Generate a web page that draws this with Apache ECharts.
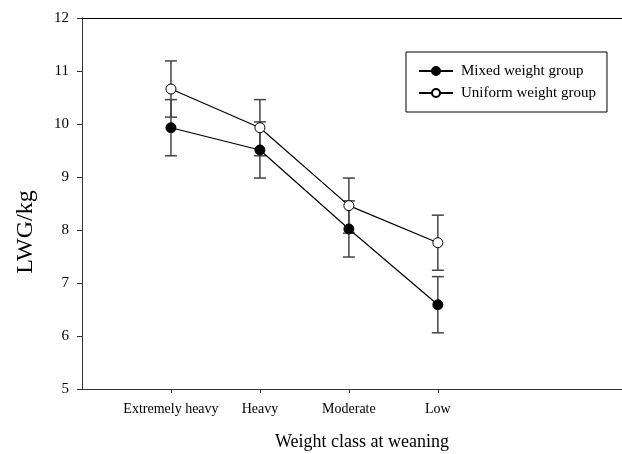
<!DOCTYPE html>
<html>
<head>
<meta charset="utf-8">
<script src="https://cdn.jsdelivr.net/npm/echarts@6/dist/echarts.min.js"></script>
<style>
html,body{margin:0;padding:0;background:#fff;}
#chart{width:622px;height:454px;}
</style>
</head>
<body>
<div id="chart"></div>
<script>
var categories = ['Extremely heavy', 'Heavy', 'Moderate', 'Low'];
var mixedValues = [9.93, 9.51, 8.02, 6.59];
var mixedErrors = [0.53, 0.53, 0.53, 0.53];
var uniformValues = [10.66, 9.93, 8.46, 7.76];
var uniformErrors = [0.53, 0.53, 0.52, 0.52];
var yTicks = [5, 6, 7, 8, 9, 10, 11, 12];

var FONT = '"Liberation Serif", "Times New Roman", serif';

function pts(vals) { return vals.map(function (v, i) { return [i + 1, v]; }); }
function errs(vals, e) { return vals.map(function (v, i) { return [i + 1, v - e[i], v + e[i]]; }); }

function errRender(params, api) {
  var x = api.value(0);
  var lo = api.coord([x, api.value(1)]);
  var hi = api.coord([x, api.value(2)]);
  var hw = 6;
  var st = { stroke: '#444', lineWidth: 1.5 };
  return {
    type: 'group',
    children: [
      { type: 'line', shape: { x1: lo[0], y1: lo[1], x2: hi[0], y2: hi[1] }, style: st },
      { type: 'line', shape: { x1: lo[0] - hw, y1: lo[1], x2: lo[0] + hw, y2: lo[1] }, style: st },
      { type: 'line', shape: { x1: hi[0] - hw, y1: hi[1], x2: hi[0] + hw, y2: hi[1] }, style: st }
    ]
  };
}

var chart = echarts.init(document.getElementById('chart'));
chart.setOption({
  animation: false,
  backgroundColor: '#fff',
  grid: { left: 82, top: 18, bottom: 65, right: 0 },
  legend: {
    orient: 'vertical', left: 406, top: 52,
    data: ['Mixed weight group', 'Uniform weight group'],
    itemWidth: 34, itemHeight: 10, itemGap: 6,
    padding: [11, 11, 11, 12],
    borderColor: '#000', borderWidth: 1,
    textStyle: { fontFamily: FONT, fontSize: 15, color: '#000', lineHeight: 16, padding: [0, 0, 0, 3] }
  },
  xAxis: [{
    type: 'value', min: 0, max: 6.07, interval: 1,
    splitLine: { show: false },
    axisLine: { lineStyle: { color: '#333', width: 1 } },
    axisTick: { show: true, length: 4, customValues: [1, 2, 3, 4], lineStyle: { color: '#333' } },
    axisLabel: {
      customValues: [1, 2, 3, 4], margin: 13,
      fontFamily: FONT, fontSize: 14, color: '#000',
      formatter: function (v) { return categories[Math.round(v) - 1] || ''; }
    }
  }, {
    type: 'value', position: 'top', min: 0, max: 1,
    splitLine: { show: false },
    axisLine: { show: true, lineStyle: { color: '#000', width: 1 } },
    axisTick: { show: false }, axisLabel: { show: false }
  }],
  yAxis: {
    type: 'value', min: yTicks[0], max: yTicks[yTicks.length - 1], interval: 1,
    splitLine: { show: false },
    axisLine: { show: true, lineStyle: { color: '#333', width: 1 } },
    axisTick: { show: true, length: 5, lineStyle: { color: '#333' } },
    axisLabel: { margin: 13, fontFamily: FONT, fontSize: 15, color: '#000' }
  },
  graphic: [
    { type: 'text', x: 26, y: 232, rotation: Math.PI / 2, style: { text: 'LWG/kg', font: '24px ' + FONT, fill: '#000', textAlign: 'center', textVerticalAlign: 'middle' } },
    { type: 'text', x: 362, y: 442, style: { text: 'Weight class at weaning', font: '18px ' + FONT, fill: '#000', textAlign: 'center', textVerticalAlign: 'middle' } }
  ],
  series: [
    { name: 'errMixed', type: 'custom', renderItem: errRender, data: errs(mixedValues, mixedErrors), z: 1, silent: true },
    { name: 'errUniform', type: 'custom', renderItem: errRender, data: errs(uniformValues, uniformErrors), z: 1, silent: true },
    {
      name: 'Mixed weight group', type: 'line', data: pts(mixedValues), z: 3,
      symbol: 'circle', symbolSize: 10,
      lineStyle: { color: '#000', width: 1.2 },
      itemStyle: { color: '#000', borderColor: '#000', borderWidth: 1 }
    },
    {
      name: 'Uniform weight group', type: 'line', data: pts(uniformValues), z: 3,
      symbol: 'circle', symbolSize: 10,
      lineStyle: { color: '#000', width: 1.2 },
      itemStyle: { color: '#fff', borderColor: '#000', borderWidth: 1 }
    }
  ]
});
</script>
</body>
</html>
